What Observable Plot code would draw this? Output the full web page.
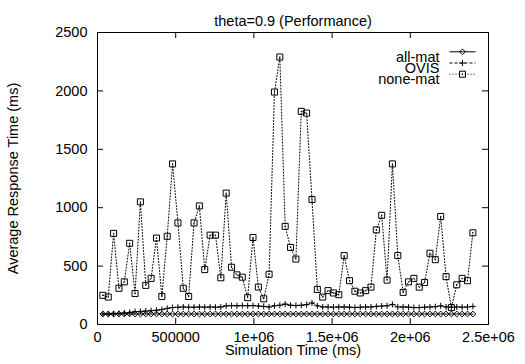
<!DOCTYPE html>
<html>
<head>
<meta charset="utf-8">
<script src="https://cdn.jsdelivr.net/npm/d3@7"></script>
<script src="https://cdn.jsdelivr.net/npm/@observablehq/plot@0.6"></script>
<style>
  html, body { margin: 0; padding: 0; background: white; }
</style>
</head>
<body>
<div id="chart"></div>
<script>
const titleText = "theta=0.9 (Performance)";
const xLabel = "Simulation Time (ms)";
const yLabel = "Average Response Time (ms)";
const seriesNames = ["all-mat", "OVIS", "none-mat"];

const xTicks = [0, 500000, 1000000, 1500000, 2000000, 2500000];
const xTickLabels = ["0", "500000", "1e+06", "1.5e+06", "2e+06", "2.5e+06"];
const yTicks = [0, 500, 1000, 1500, 2000, 2500];
const yTickLabels = ["0", "500", "1000", "1500", "2000", "2500"];

const times = [
  34286, 68571, 102857, 137143, 171429, 205714, 240000, 274286, 308571, 342857,
  377143, 411429, 445714, 480000, 514286, 548571, 582857, 617143, 651429, 685714,
  720000, 754286, 788571, 822857, 857143, 891429, 925714, 960000, 994286, 1028571,
  1062857, 1097143, 1131429, 1165714, 1200000, 1234286, 1268571, 1302857, 1337143, 1371429,
  1405714, 1440000, 1474286, 1508571, 1542857, 1577143, 1611429, 1645714, 1680000, 1714286,
  1748571, 1782857, 1817143, 1851429, 1885714, 1920000, 1954286, 1988571, 2022857, 2057143,
  2091429, 2125714, 2160000, 2194286, 2228571, 2262857, 2297143, 2331429, 2365714, 2400000
];

const allMat = [
  90, 90, 90, 90, 90, 91, 90, 90, 90, 90,
  90, 89, 90, 90, 90, 90, 90, 90, 90, 90,
  90, 90, 90, 90, 90, 90, 90, 90, 90, 90,
  90, 90, 90, 90, 90, 90, 90, 90, 90, 90,
  90, 90, 90, 90, 90, 90, 90, 90, 90, 90,
  90, 90, 90, 90, 90, 90, 90, 90, 90, 90,
  90, 90, 90, 90, 90, 90, 90, 90, 90, 90
];

const ovis = [
  90, 90, 92, 95, 98, 102, 110, 112, 115, 118,
  122, 128, 138, 145, 148, 150, 148, 148, 150, 148,
  150, 148, 150, 160, 162, 160, 162, 160, 162, 158,
  155, 150, 160, 165, 175, 165, 162, 165, 170, 185,
  160, 150, 150, 148, 150, 150, 148, 145, 148, 150,
  150, 155, 158, 160, 172, 150, 150, 148, 145, 145,
  148, 150, 152, 160, 150, 148, 150, 148, 150, 155
];

const noneMat = [
  250, 235, 780, 310, 365, 695, 265, 1050, 335, 395,
  740, 240, 755, 1375, 870, 310, 240, 870, 1015, 470,
  765, 765, 400, 1125, 490, 425, 405, 230, 745, 320,
  220, 430, 1990, 2290, 840, 660, 560, 1825, 1810, 1070,
  300, 235, 290, 270, 255, 590, 375, 285, 270, 290,
  320, 810, 935, 380, 1375, 590, 275, 365, 395, 320,
  360, 610, 555, 925, 410, 145, 340, 395, 375, 785
];

const seriesValues = [allMat, ovis, noneMat];
const dashes = [null, "3,2", "1,2"];
const markers = ["diamond2", "plus", "square"];
const markerR = [2.6, 2.1, 3.4];

const rows = [];
seriesNames.forEach((name, s) => {
  seriesValues[s].forEach((v, i) => rows.push({series: name, t: times[i], v}));
});

const W = 525, H = 364, ML = 97, MR = 37, MT = 32, MB = 40;
const frameW = W - ML - MR, frameH = H - MT - MB;
const tickLen = 6;

const hline = {
  draw(context) {
    context.moveTo(-13, 0);
    context.lineTo(13, 0);
  }
};

const marks = [];

seriesNames.forEach((name, s) => {
  const data = rows.filter(d => d.series === name);
  marks.push(Plot.line(data, {
    x: "t", y: "v", stroke: "black", strokeWidth: 1,
    strokeDasharray: dashes[s] || undefined
  }));
});
seriesNames.forEach((name, s) => {
  const data = rows.filter(d => d.series === name);
  marks.push(Plot.dot(data, {
    x: "t", y: "v", symbol: markers[s], r: markerR[s],
    stroke: "black", fill: "none", strokeWidth: 1
  }));
  if (markers[s] === "square") {
    marks.push(Plot.dot(data, {x: "t", y: "v", r: 0.7, fill: "black", stroke: "none"}));
  }
});

// inward ticks (gnuplot style, mirrored)
marks.push(Plot.tickX(xTicks, {x: d => d, insetTop: frameH - tickLen, stroke: "black"}));
marks.push(Plot.tickX(xTicks, {x: d => d, insetBottom: frameH - tickLen, stroke: "black"}));
marks.push(Plot.tickY(yTicks, {y: d => d, insetRight: frameW - tickLen, stroke: "black"}));
marks.push(Plot.tickY(yTicks, {y: d => d, insetLeft: frameW - tickLen, stroke: "black"}));

marks.push(Plot.frame({stroke: "black", strokeWidth: 1}));

// title and axis labels
marks.push(Plot.text([titleText], {text: d => d, frameAnchor: "top", dy: -17, fill: "black"}));
marks.push(Plot.text([xLabel], {text: d => d, frameAnchor: "bottom", dy: 30.5, fill: "black"}));
marks.push(Plot.text([yLabel], {text: d => d, frameAnchor: "left", dx: -84, rotate: -90, textAnchor: "middle", fill: "black"}));

// legend
seriesNames.forEach((name, s) => {
  const dy = 19.3 + s * 11.2;
  marks.push(Plot.text([name], {text: d => d, frameAnchor: "top-right", dx: -49, dy, textAnchor: "end", fill: "black"}));
  marks.push(Plot.dot([name], {frameAnchor: "top-right", dx: -26, dy, symbol: hline, stroke: "black", fill: "none", strokeWidth: 1, strokeDasharray: dashes[s] || undefined}));
  marks.push(Plot.dot([name], {frameAnchor: "top-right", dx: -26, dy, symbol: markers[s], r: markerR[s], stroke: "black", fill: "none", strokeWidth: 1}));
  if (markers[s] === "square") {
    marks.push(Plot.dot([name], {frameAnchor: "top-right", dx: -26, dy, r: 0.7, fill: "black", stroke: "none"}));
  }
});

const chart = Plot.plot({
  width: W, height: H,
  marginLeft: ML, marginRight: MR, marginTop: MT, marginBottom: MB,
  style: {fontFamily: "'Liberation Sans', Arial, Helvetica, sans-serif", fontSize: "14.5px", background: "white", color: "black"},
  x: {domain: [0, 2500000], ticks: xTicks, tickFormat: d => xTickLabels[xTicks.indexOf(d)], label: null, tickSize: 0, tickPadding: 7},
  y: {domain: [0, 2500], ticks: yTicks, tickFormat: d => yTickLabels[yTicks.indexOf(d)], label: null, tickSize: 0, tickPadding: 10},
  marks
});
document.getElementById("chart").appendChild(chart);
</script>
</body>
</html>
